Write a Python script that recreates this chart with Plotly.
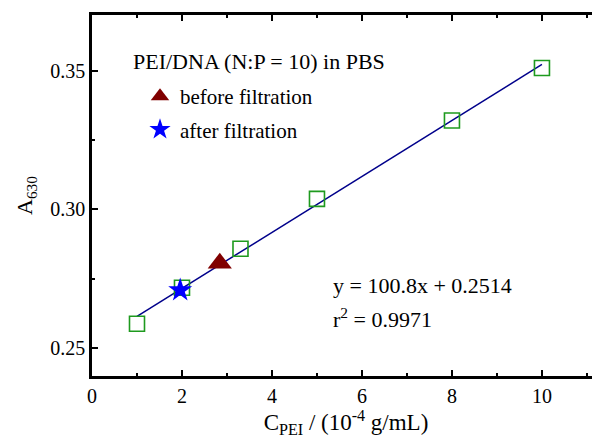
import plotly.graph_objects as go

# Data (C_PEI in 1e-4 g/mL, A630)
std_x = [1.0, 2.0, 3.3, 5.0, 8.0, 10.0]
std_y = [0.2588, 0.2718, 0.2858, 0.3038, 0.3320, 0.3509]
fit_x = [1.0, 10.0]
fit_y = [0.2615, 0.3522]
before_x = [2.84]
before_y = [0.2806]
after_x = [1.96]
after_y = [0.2709]

FONT = "Liberation Serif"
# the page body has an 8px margin; figure is sized so the plot fits the 600x439 window
W, H = 592, 431
L, T, B = 84, 7, 63
PW, PH = W - L, H - T - B


def px(xw):
    return (xw - 8 - L) / PW


def py(yw):
    return (T + 8 + PH - yw) / PH


fig = go.Figure()
fig.add_trace(go.Scatter(x=fit_x, y=fit_y, mode="lines",
                         line=dict(color="#00008B", width=1.5), showlegend=False))
fig.add_trace(go.Scatter(x=std_x, y=std_y, mode="markers",
                         marker=dict(symbol="square-open", size=15, color="#1E9A1E",
                                     line=dict(width=1.6, color="#1E9A1E")),
                         showlegend=False))
fig.add_trace(go.Scatter(x=before_x, y=before_y, mode="markers", name="before filtration",
                         legendgroup="a",
                         marker=dict(symbol="triangle-up", size=21, color="#800000")))
fig.add_trace(go.Scatter(x=after_x, y=after_y, mode="markers", name="after filtration",
                         legendgroup="b",
                         marker=dict(symbol="star", size=18, color="#0000FF")))

axis_common = dict(showline=True, linecolor="black", linewidth=2.5, ticks="inside",
                   tickcolor="black", tickwidth=2, ticklen=6, showgrid=False, zeroline=False,
                   tickfont=dict(family=FONT, size=20, color="black"))
fig.update_xaxes(range=[0, 11.29], dtick=2, tick0=0, mirror="ticks",
                 minor=dict(dtick=1, tick0=0, ticks="inside", ticklen=3, tickwidth=2, tickcolor="black"),
                 title=dict(text="C<sub>PEI</sub> / (10<sup>-4</sup> g/mL)",
                            font=dict(family=FONT, size=23, color="black"), standoff=6),
                 **axis_common)
fig.update_yaxes(range=[0.24, 0.37], dtick=0.05, tick0=0.25, tickformat=".2f",
                 minor=dict(dtick=0.025, tick0=0.25, ticks="inside", ticklen=3, tickwidth=2, tickcolor="black"),
                 title=dict(text="A<sub>630</sub>",
                            font=dict(family=FONT, size=22, color="black"), standoff=12),
                 **axis_common)

fig.add_annotation(xref="paper", yref="paper", x=px(131), y=py(62),
                   xanchor="left", yanchor="middle", showarrow=False, align="left",
                   text="PEI/DNA (N:P = 10) in PBS", font=dict(family=FONT, size=22, color="black"))
fig.add_annotation(xref="paper", yref="paper", x=px(331), y=py(285),
                   xanchor="left", yanchor="middle", showarrow=False, align="left",
                   text="y = 100.8x + 0.2514", font=dict(family=FONT, size=22, color="black"))
fig.add_annotation(xref="paper", yref="paper", x=px(331), y=py(318),
                   xanchor="left", yanchor="middle", showarrow=False, align="left",
                   text="r<sup>2</sup> = 0.9971", font=dict(family=FONT, size=22, color="black"))

fig.update_layout(
    width=W, height=H,
    margin=dict(l=L, r=0, t=T, b=B, autoexpand=False),
    paper_bgcolor="white", plot_bgcolor="white",
    font=dict(family=FONT, size=21, color="black"),
    legend=dict(x=px(140), y=py(76), xanchor="left", yanchor="top",
                bgcolor="rgba(0,0,0,0)", tracegroupgap=3, itemsizing="trace",
                font=dict(family=FONT, size=21, color="black")),
)
fig.write_html("out.html")
